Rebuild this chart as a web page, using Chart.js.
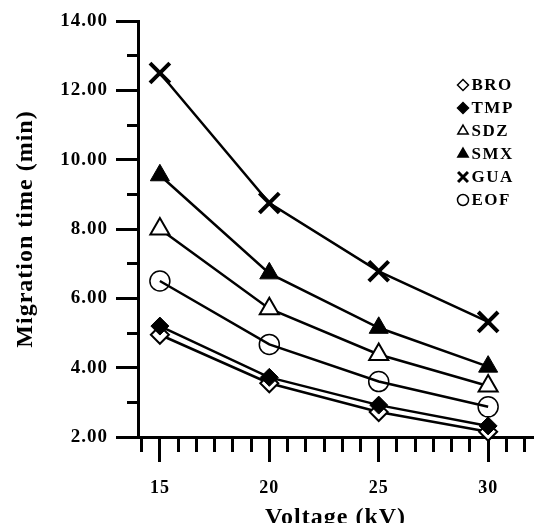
<!DOCTYPE html>
<html lang="en">

<head>
    <meta charset="UTF-8" />
    <title>Migration time vs. voltage</title>
    <script src="https://cdn.jsdelivr.net/npm/chart.js"></script>
    <style>
        body {
            margin: 0;
            background: #fff;
        }

        #wrap {
            width: 551px;
            height: 523px;
        }
    </style>
</head>

<body>

    <div id="wrap"><canvas id="migChart" width="551" height="523"></canvas></div>

    <script>
        // applied voltage (kV) and the labelled ticks
        const voltages = [15, 20, 25, 30];
        const xTickLabels = ['15', '20', '25', '30'];
        const yTickLabels = ['2.00', '4.00', '6.00', '8.00', '10.00', '12.00', '14.00'];

        // migration times (min)
        const bro = [4.95, 3.55, 2.72, 2.15];
        const tmp = [5.2, 3.72, 2.92, 2.32];
        const sdz = [8.0, 5.7, 4.38, 3.47];
        const smx = [9.55, 6.72, 5.15, 4.03];
        const gua = [12.5, 8.75, 6.78, 5.32];
        const eof = [6.5, 4.67, 3.6, 2.87];

        const serif = '"Liberation Serif", "Times New Roman", serif';

        function pts(arr) {
            return arr.map((v, i) => ({ x: voltages[i], y: v }));
        }

        function series(label, values, style, radius, fill, border, extra) {
            return Object.assign({
                label: label,
                data: pts(values),
                borderColor: '#000',
                borderWidth: 2.5,
                pointStyle: style,
                pointRadius: radius,
                pointHoverRadius: radius,
                pointBackgroundColor: fill,
                pointBorderColor: '#000',
                pointBorderWidth: border,
                fill: false,
                tension: 0,
                clip: false
            }, extra || {});
        }

        // legend drawn inside the plot, top right; also widens glyph spacing a bit
        const figurePlugin = {
            id: 'figure',
            beforeDraw(chart) {
                chart.ctx.letterSpacing = '1px';
            },
            afterDraw(chart) {
                const ctx = chart.ctx;
                const lx = 463, ly = 85, step = 23;
                chart.data.datasets.forEach((ds, i) => {
                    const y = ly + i * step;
                    ctx.save();
                    ctx.fillStyle = ds.pointBackgroundColor;
                    ctx.strokeStyle = '#000';
                    ctx.lineWidth = ds.pointStyle === 'crossRot' ? 3 : 1.5;
                    Chart.helpers.drawPoint(ctx, {
                        pointStyle: ds.pointStyle,
                        radius: ds.pointStyle === 'crossRot' ? 7 : (ds.pointStyle === 'triangle' ? 6 : 5.5),
                        borderWidth: ctx.lineWidth,
                        rotation: 0
                    }, lx, y);
                    ctx.restore();

                    ctx.save();
                    ctx.letterSpacing = '1.5px';
                    ctx.fillStyle = '#000';
                    ctx.font = 'bold 17px ' + serif;
                    ctx.textBaseline = 'middle';
                    ctx.textAlign = 'left';
                    ctx.fillText(ds.label, 471.5, y + 1);
                    ctx.restore();
                });
                ctx.letterSpacing = '0px';
            }
        };

        const ctx = document.getElementById('migChart').getContext('2d');
        const chart = new Chart(ctx, {
            type: 'line',
            data: {
                datasets: [
                    series('BRO', bro, 'rectRot', 9, '#fff', 2),
                    series('TMP', tmp, 'rectRot', 9, '#000', 1, { order: -1 }),
                    series('SDZ', sdz, 'triangle', 11, '#fff', 2),
                    series('SMX', smx, 'triangle', 11, '#000', 1),
                    series('GUA', gua, 'crossRot', 14, '#000', 4),
                    series('EOF', eof, 'circle', 10, 'rgba(0,0,0,0)', 1.5)
                ]
            },
            options: {
                responsive: false,
                animation: false,
                events: [],
                layout: {
                    padding: { top: 21, right: 0, bottom: 0, left: 0 }
                },
                plugins: {
                    legend: { display: false },
                    tooltip: { enabled: false }
                },
                scales: {
                    x: {
                        type: 'linear',
                        min: 14,
                        max: 32.05,
                        afterBuildTicks: scale => {
                            // minor marks every 5/6 kV, as on the original axis
                            const t = [];
                            for (let k = -1; k <= 20; k++) t.push({ value: 15 + k * 5 / 6 });
                            scale.ticks = t;
                        },
                        afterFit: scale => {
                            scale.height = 86;
                            // axis runs right up to the edge of the figure
                            scale.paddingLeft = 0;
                            scale.paddingRight = 0;
                        },
                        ticks: {
                            autoSkip: false,
                            maxRotation: 0,
                            padding: 16,
                            color: '#000',
                            font: { family: serif, size: 18, weight: 'bold' },
                            callback: value => {
                                const i = voltages.findIndex(v => Math.abs(v - value) < 1e-6);
                                return i >= 0 ? xTickLabels[i] : '';
                            }
                        },
                        grid: {
                            drawOnChartArea: false,
                            drawTicks: true,
                            tickLength: 25,
                            tickWidth: 3,
                            tickColor: '#000',
                            tickBorderDash: c => {
                                const v = c.tick ? c.tick.value : 0;
                                const major = voltages.some(x => Math.abs(x - v) < 1e-6);
                                return major ? [] : [13, 100];
                            }
                        },
                        border: { display: true, color: '#000', width: 3 },
                        title: {
                            display: true,
                            text: 'Voltage (kV)',
                            color: '#000',
                            font: { family: serif, size: 24, weight: 'bold' },
                            padding: { top: 0, bottom: -9 }
                        }
                    },
                    y: {
                        min: 2,
                        max: 14,
                        afterFit: scale => {
                            scale.width = 138;
                        },
                        ticks: {
                            stepSize: 1,
                            autoSkip: false,
                            padding: 8,
                            color: '#000',
                            font: { family: serif, size: 19, weight: 'bold' },
                            callback: value => (value % 2 === 0 ? yTickLabels[(value - 2) / 2] : '')
                        },
                        grid: {
                            drawOnChartArea: false,
                            drawTicks: true,
                            tickLength: 22,
                            tickWidth: 3,
                            tickColor: '#000',
                            tickBorderDash: c => {
                                const v = c.tick ? c.tick.value : 0;
                                return v % 2 === 0 ? [] : [0, 11, 11, 100];
                            }
                        },
                        border: { display: true, color: '#000', width: 3 },
                        title: {
                            display: true,
                            text: 'Migration time (min)',
                            color: '#000',
                            font: { family: serif, size: 24, weight: 'bold' },
                            padding: { top: 11, bottom: 0 }
                        }
                    }
                }
            },
            plugins: [figurePlugin]
        });
    </script>

</body>

</html>
